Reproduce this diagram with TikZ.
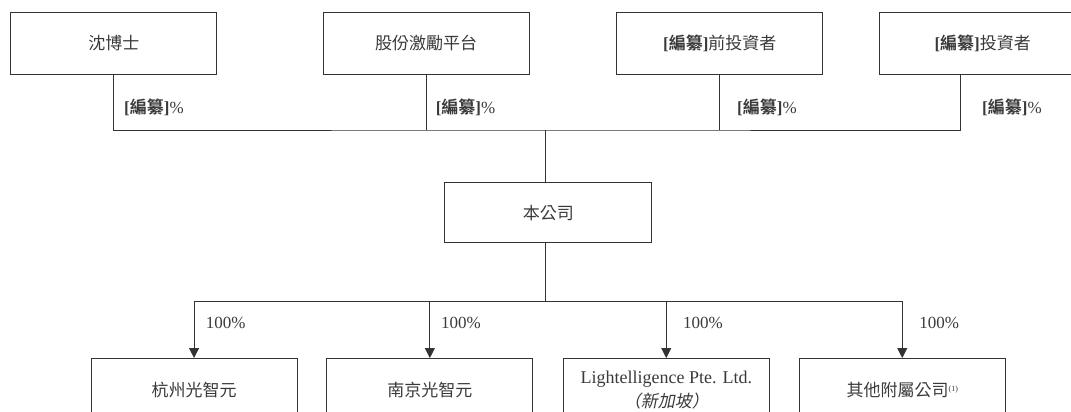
\documentclass[tikz,border=0pt]{standalone}
\usepackage{fontspec}
\setmainfont{Liberation Serif}
\newfontfamily\cjk{Noto Sans CJK TC}[BoldFont={Noto Sans CJK TC Bold}]
\newfontfamily\cjki{Noto Sans CJK TC}[FakeSlant=0.2]
\usetikzlibrary{arrows.meta,calc}
\definecolor{linec}{HTML}{333333}
\definecolor{txt}{HTML}{3A3A3A}
\newcommand{\bz}{\textbf{[}{\cjk\bfseries 編纂}\textbf{]}}
\begin{document}
\begin{tikzpicture}[x=1pt,y=-1pt,
  box/.style={draw=linec, line width=0.9pt, minimum width=206pt, minimum height=62pt,
    inner sep=0pt, anchor=north west, text=txt, font=\fontsize{17}{22}\selectfont, align=center},
  conn/.style={draw=linec, line width=0.9pt},
  arr/.style={conn, -{Triangle[width=10pt,length=10pt]}},
  lab/.style={anchor=west, inner sep=0pt, text=txt, font=\fontsize{17}{20}\selectfont}]
\useasboundingbox (0,0) rectangle (1071,412);
\clip (0,0) rectangle (1071,412);
% top row
\node[box] (a) at (10.3,12) {\cjk 沈博士};
\node[box] (b) at (322.7,12) {\cjk 股份激勵平台};
\node[box] (c) at (616.3,12) {\bz{\cjk 前投資者}};
\node[box] (d) at (879.2,12) {\bz{\cjk 投資者}};
% company
\node[box, minimum width=207pt, minimum height=60pt] (co) at (444.3,182.3) {\cjk 本公司};
% bottom row
\node[box, minimum height=64pt] (s1) at (90.6,358) {\cjk 杭州光智元};
\node[box, minimum height=64pt] (s2) at (326.4,358) {\cjk 南京光智元};
\node[box, minimum height=64pt, font=\fontsize{18}{22}\selectfont] (s3) at (562.8,358) {Lightelligence Pte. Ltd.\\[2pt]{\cjki\fontsize{17}{22}\selectfont （新加坡）}};
\node[box, minimum height=64pt] (s4) at (798.8,358) {{\cjk 其他附屬公司}\raisebox{0.7ex}{\fontsize{8}{9}\selectfont(1)}};
% connectors top
\coordinate (hub) at (545,130);
\coordinate (dL) at ($(d.south west)+(81,0)$);
\draw[conn] (a.south) |- (hub) -| (dL);
\draw[conn] (b.south) -- (b.south |- hub);
\draw[conn] (c.south) -- (c.south |- hub);
\draw[conn] (hub) -- (hub |- co.north);
% connectors bottom
\coordinate (hub2) at (545,301.7);
\draw[conn] (hub2 |- co.south) -- (hub2);
\draw[arr] (hub2) -| (s1.north);
\draw[arr] (hub2) -| (s2.north);
\draw[arr] (hub2) -| (s3.north);
\draw[arr] (hub2) -| (s4.north);
% labels
\node[lab] (la) at (124,107) {\bz\%};
\node[lab] (lb) at (435.6,107) {\bz\%};
\node[lab] (lc) at (737,107) {\bz\%};
\node[lab] (ld) at (982,107) {\bz\%};
\node[lab] (p1) at (205.6,323) {100\%};
\node[lab] (p2) at (440.8,323) {100\%};
\node[lab] (p3) at (682.9,323) {100\%};
\node[lab] (p4) at (919.2,323) {100\%};
\end{tikzpicture}
\end{document}
